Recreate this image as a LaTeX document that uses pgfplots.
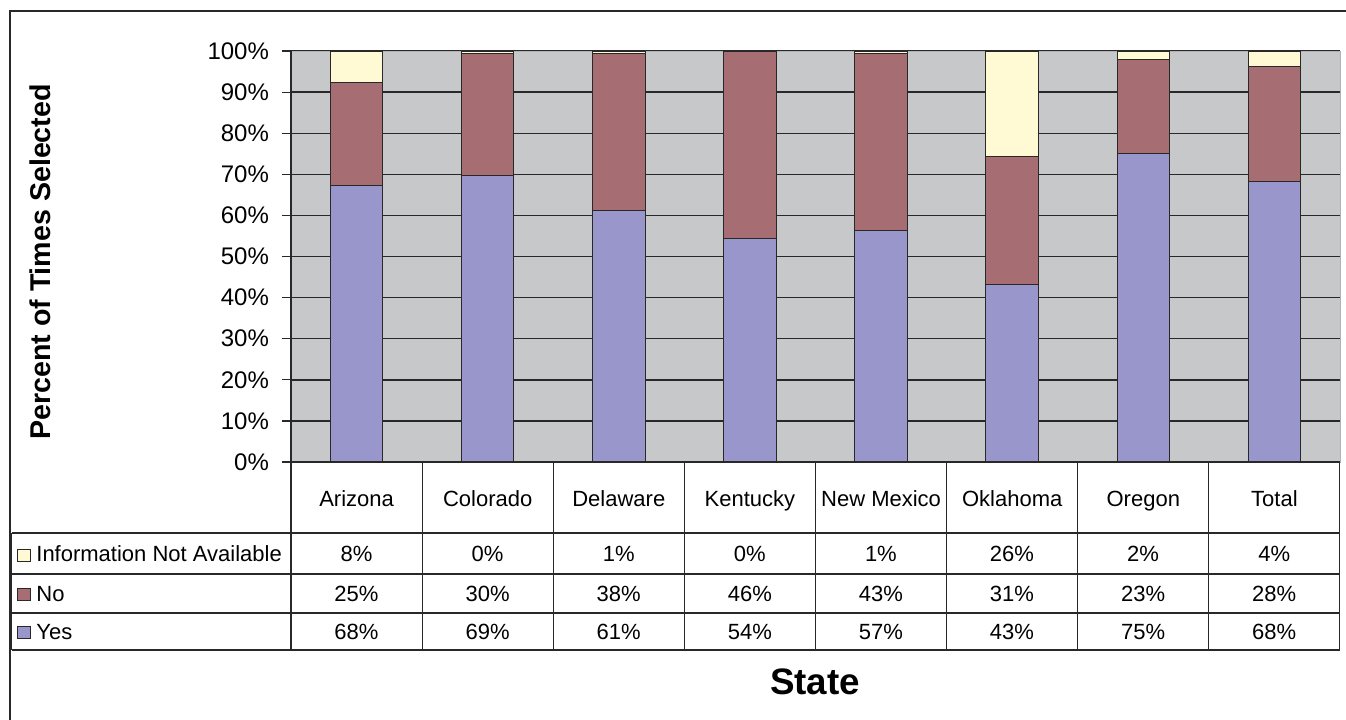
\documentclass[border=0pt]{standalone}
\usepackage{pgfplots}
\pgfplotsset{compat=1.18}
\usepackage{pgfplotstable}
\usepackage{fontspec}
\setmainfont{Liberation Sans}
\definecolor{yescol}{RGB}{153,150,204}
\definecolor{nocol}{RGB}{166,110,114}
\definecolor{nacol}{RGB}{255,250,212}
\definecolor{bgcol}{RGB}{199,200,202}
\definecolor{linecol}{RGB}{40,40,40}

\pgfplotstableread{
x yes no na
0 67.3 25.1 7.6
1 69.6 29.8 0.6
2 61.2 38.2 0.6
3 54.4 45.6 0.0
4 56.4 42.9 0.7
5 43.1 31.2 25.7
6 75.1 22.9 2.0
7 68.2 28.0 3.8
}\plotdata

\begin{document}
\begin{tikzpicture}
\begin{scope}[x=0.5pt,y=-0.5pt]
\useasboundingbox (0,0) rectangle (1346,719);
\draw[line width=0.6pt, linecol] (10,740) -- (10,11) -- (1380,11);
\end{scope}
\begin{axis}[
  at={(145.5pt,-231pt)}, anchor=south west,
  scale only axis, width=524.5pt, height=205.5pt,
  ybar stacked, bar width=26.25pt,
  xmin=-0.5, xmax=7.5, ymin=0, ymax=100,
  xtick={0,...,7},
  xticklabels={Arizona,Colorado,Delaware,Kentucky,New Mexico,Oklahoma,Oregon,Total},
  x tick style={draw=none},
  xticklabel style={anchor=center, yshift=-14.5pt, text height=8pt, text depth=2pt, font=\fontsize{11}{13}\selectfont},
  ytick={0,10,...,100},
  ytick pos=left,
  yticklabel={\pgfmathprintnumber[assume math mode=true]{\tick}\%},
  yticklabel style={font=\fontsize{12}{14}\selectfont, xshift=-3pt},
  tick align=outside, major tick length=4.5pt,
  y tick style={linecol, line width=0.6pt},
  ymajorgrids, grid style={linecol, line width=0.7pt},
  axis background/.style={fill=bgcol},
  axis line style={draw=gray!60, line width=0.5pt},
  clip=false,
]
\addplot[fill=yescol, draw=linecol, line width=0.5pt] table[x=x, y=yes] {\plotdata};
\addplot[fill=nocol, draw=linecol, line width=0.5pt] table[x=x, y=no] {\plotdata};
\addplot[fill=nacol, draw=linecol, line width=0.5pt] table[x=x, y=na] {\plotdata};
\end{axis}
\begin{scope}[x=0.5pt,y=-0.5pt]
% left axis line
\draw[linecol, line width=0.6pt] (291,51) -- (291,462);
% table lines
\draw[linecol, line width=0.6pt] (291,462) -- (1340,462);
\foreach \yy in {533,574,613,650} \draw[linecol, line width=0.6pt] (11.7,\yy) -- (1340,\yy);
\draw[linecol, line width=0.6pt] (11.7,533) -- (11.7,650);
\foreach \i in {0,...,8} \draw[linecol, line width=0.6pt] ({291+131.1*\i},462) -- ({291+131.1*\i},650);
% legend keys and names
\filldraw[fill=nacol, draw=linecol, line width=0.5pt] (17,549) rectangle (30,561);
\filldraw[fill=nocol, draw=linecol, line width=0.5pt] (17,588) rectangle (30,600);
\filldraw[fill=yescol, draw=linecol, line width=0.5pt] (17,626) rectangle (30,638);
\node[anchor=west, inner sep=0pt, font=\fontsize{11}{13}\selectfont] at (36,554) {Information Not Available};
\node[anchor=west, inner sep=0pt, font=\fontsize{11}{13}\selectfont] at (36,594) {No};
\node[anchor=west, inner sep=0pt, font=\fontsize{11}{13}\selectfont] at (36,632) {Yes};
% table values
\foreach \i/\a/\b/\c in {0/8/25/68,1/0/30/69,2/1/38/61,3/0/46/54,4/1/43/57,5/26/31/43,6/2/23/75,7/4/28/68}{
  \node[font=\fontsize{11}{13}\selectfont] at ({356.5+131.1*\i},554) {\a\%};
  \node[font=\fontsize{11}{13}\selectfont] at ({356.5+131.1*\i},594) {\b\%};
  \node[font=\fontsize{11}{13}\selectfont] at ({356.5+131.1*\i},632) {\c\%};
}
% axis titles
\node[rotate=90, font=\fontsize{14.3}{16}\selectfont\bfseries] at (40,262) {Percent of Times Selected};
\node[font=\fontsize{18.4}{20}\selectfont\bfseries] at (815,682) {State};
\end{scope}
\end{tikzpicture}
\end{document}
